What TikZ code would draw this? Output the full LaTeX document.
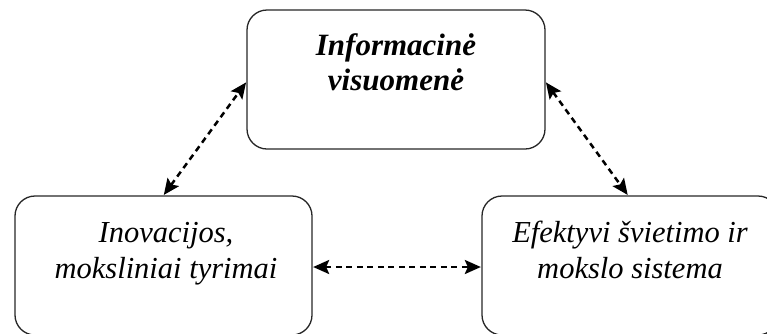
\documentclass[tikz,border=0pt]{standalone}
\usepackage{fontspec}
\setmainfont{Liberation Serif}
\usetikzlibrary{arrows.meta}
\begin{document}
\begin{tikzpicture}[x=1pt,y=-1pt,
  box/.style={draw=black!85,line width=1.3pt,rounded corners=20pt,
    minimum width=#1,minimum height=139pt,inner sep=0pt},
  boldtxt/.style={anchor=base,inner sep=0pt,font=\fontsize{31}{35}\selectfont\bfseries\itshape},
  plaintxt/.style={anchor=base,inner sep=0pt,font=\fontsize{30.5}{35}\selectfont\itshape},
  link/.style={dash pattern=on 6pt off 4.5pt,line width=2.5pt,
    {Stealth[length=16pt,width=14pt,inset=3pt]}-{Stealth[length=16pt,width=14pt,inset=3pt]},shorten <=0.5pt,shorten >=0.5pt}]
  \useasboundingbox (0,0) rectangle (767,333);
  \clip (0,0) rectangle (767,333);

  % the three boxes
  \node[box=298pt] (top)   at (396,79.5)   {};
  \node[box=297pt] (left)  at (163.5,265.5) {};
  \node[box=296pt] (right) at (630,265.5)  {};

  % box captions
  \node[boldtxt] (topA) at (396,55) {Informacinė};
  \node[boldtxt] (topB) at (396,90) {visuomenė};
  \node[plaintxt] (leftA) at (166,242) {Inovacijos,};
  \node[plaintxt] (leftB) at (166,278) {moksliniai tyrimai};
  \node[plaintxt] (rightA) at (630,242) {Efektyvi švietimo ir};
  \node[plaintxt] (rightB) at (630,278) {mokslo sistema};

  % two-way links
  \coordinate (tw) at ([yshift=-2.5pt]top.west);
  \coordinate (te) at ([yshift=-2.5pt]top.east);
  \coordinate (rn) at ([xshift=-2pt]right.north);
  \coordinate (lr) at ([yshift=-1.5pt]left.east);
  \coordinate (rl) at ([yshift=-1.5pt]right.west);
  \draw[link] (left.north) -- (tw);
  \draw[link] (te) -- (rn);
  \draw[link] (lr) -- (rl);
\end{tikzpicture}
\end{document}
